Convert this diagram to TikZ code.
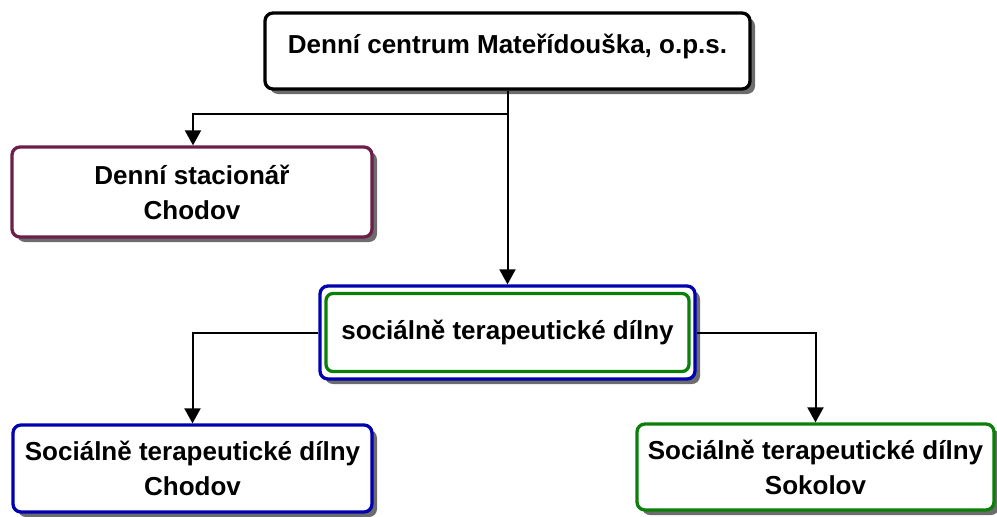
\documentclass[tikz,border=0pt]{standalone}
\usepackage{fontspec}
\setmainfont{Liberation Sans}
\usetikzlibrary{shadows,arrows.meta}
\definecolor{cpurple}{HTML}{6B1F4A}
\definecolor{cblue}{HTML}{0000B0}
\definecolor{cgreen}{HTML}{0A800A}
\tikzset{
  box/.style={draw, line width=3.3pt, rounded corners=8pt, fill=white, align=center,
    font=\fontsize{26}{35}\selectfont\bfseries, inner sep=0pt,
    drop shadow={shadow xshift=5pt, shadow yshift=-5pt, fill=gray!85!black, opacity=1}},
  conn/.style={line width=2pt, -{Triangle[length=15pt,width=16pt]}},
  plain/.style={line width=2pt}
}
\begin{document}
\begin{tikzpicture}[x=1pt,y=-1pt]
\useasboundingbox (0,0) rectangle (997,517);
\node[box, minimum width=485pt, minimum height=76pt] (top) at (507.5,51) {\raisebox{-2pt}[0pt][0pt]{Denní centrum Mateřídouška, o.p.s.}};
\node[box, draw=cpurple, minimum width=360pt, minimum height=90pt] (stac) at (192,192) {Denní stacionář\\Chodov};
\node[box, draw=cblue, minimum width=375pt, minimum height=93pt] (mid) at (507.5,332.5) {};
\node[draw=cgreen, line width=3.3pt, rounded corners=7pt, minimum width=363pt, minimum height=78pt, inner sep=0pt,
  font=\fontsize{26}{35}\selectfont\bfseries] (midin) at (507.5,332.5) {sociálně terapeutické dílny};
\node[box, draw=cblue, minimum width=359pt, minimum height=87pt] (bl) at (192.5,468.5) {Sociálně terapeutické dílny\\Chodov};
\node[box, draw=cgreen, minimum width=357pt, minimum height=86pt] (br) at (815.5,467) {Sociálně terapeutické dílny\\Sokolov};
\coordinate (j) at (507.5,114);
\draw[plain] (top.south) -- (j);
\draw[conn] (j) -| (193,0 |- stac.north) ;
\draw[conn] (top.south) -- (mid.north);
\draw[conn] (mid.west) -| (bl.north);
\draw[conn] (mid.east) -| (br.north);
\end{tikzpicture}
\end{document}
